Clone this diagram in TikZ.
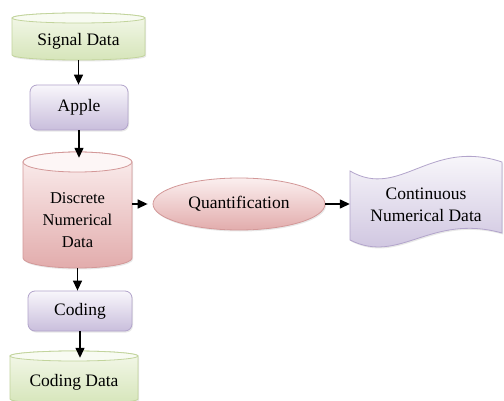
\documentclass[tikz,border=0pt]{standalone}
\usepackage{fontspec}
\setmainfont{Liberation Serif}
\newfontfamily\lblfont{Liberation Serif}
\usetikzlibrary{arrows.meta,shadows,shapes.geometric}
\definecolor{gT}{HTML}{F4F8EA}
\definecolor{gB}{HTML}{D6E5BA}
\definecolor{gL}{HTML}{C2D49C}
\definecolor{gE}{HTML}{F8FBF2}
\definecolor{pT}{HTML}{FBEFEF}
\definecolor{pB}{HTML}{E2ACAC}
\definecolor{pL}{HTML}{D39898}
\definecolor{pE}{HTML}{FDF6F6}
\definecolor{vT}{HTML}{F8F6FB}
\definecolor{vB}{HTML}{C9BEDC}
\definecolor{vL}{HTML}{B2A4CB}
\newcommand\mycyl[6]{%
  \pgfmathsetmacro\cylcx{(#1+#2)/2}%
  \pgfmathsetmacro\cylrx{(#2-#1)/2}%
  \path[#6] (#1,#3-#5) -- (#1,#4+#5)
    arc[start angle=180,end angle=360,x radius=\cylrx pt,y radius=#5pt]
    -- (#2,#3-#5)
    arc[start angle=0,end angle=180,x radius=\cylrx pt,y radius=#5pt] -- cycle;
  \path[#6 top] (\cylcx,#3-#5) ellipse[x radius=\cylrx pt,y radius=#5pt];
}
\begin{document}
\begin{tikzpicture}[x=1pt,y=1pt,
  shade/.style={drop shadow={opacity=0.18,shadow xshift=1pt,shadow yshift=-1.5pt}},
  gcyl/.style={draw=gL,line width=0.8pt,top color=gT,bottom color=gB,shade},
  gcyl top/.style={draw=gL,line width=0.8pt,fill=gE},
  pcyl/.style={draw=pL,line width=0.8pt,top color=pT,bottom color=pB,shade},
  pcyl top/.style={draw=pL,line width=0.8pt,fill=pE},
  lbl/.style={font=\lblfont\fontsize{17.5}{22}\selectfont,text=black,align=center,inner sep=0pt},
  rbox/.style={lbl,draw=vL,line width=0.8pt,rounded corners=7pt,top color=vT,bottom color=vB,shade},
  qell/.style={lbl,ellipse,draw=pL,line width=0.8pt,top color=pT,bottom color=pB,shade},
  arr/.style={line width=1.4pt,-{Triangle[length=10pt,width=9pt]}}]
\path[use as bounding box,clip] (0,0) rectangle (504,400);
\fill[white] (0,0) rectangle (504,400);
% cylinders
\mycyl{12}{145}{387}{340}{5}{gcyl}
\mycyl{23}{132}{248}{132}{10}{pcyl}
\mycyl{10}{138}{49}{-4}{5}{gcyl}
% wave shape
\path[draw=vL,line width=0.8pt,top color=white,bottom color=vB,shade]
  (350,229) .. controls (400,200) and (430,262) .. (502,238)
  -- (502,167) .. controls (430,187) and (400,135) .. (350,160) -- cycle;
% nodes
\node[lbl,minimum width=133,minimum height=37] (sig) at (78.5,358.5) {Signal Data};
\node[rbox,minimum width=98,minimum height=45] (apple) at (79,292.5) {Apple};
\node[lbl,font=\lblfont\fontsize{16.5}{22}\selectfont,minimum width=109,minimum height=96] (disc) at (77.5,180) {Discrete\\Numerical\\Data};
\node[rbox,minimum width=104,minimum height=40] (coding) at (80,89) {Coding};
\node[lbl,minimum width=128,minimum height=43] (cdata) at (74,17.5) {Coding Data};
\node[qell,minimum width=172,minimum height=52] (quant) at (239,196) {Quantification};
\node[lbl,minimum width=152,minimum height=70] (cont) at (426,195) {Continuous\\Numerical Data};
% connectors
\draw[arr] (sig.south) -- (sig.south |- apple.north);
\draw[arr] (apple.south) -- ([yshift=14pt]apple.south |- disc.north);
\draw[arr] (disc.south) -- (disc.south |- coding.north);
\draw[arr] (coding.south) -- ([yshift=3pt]coding.south |- cdata.north);
\draw[arr,shorten >=5pt] (disc.east |- quant.west) -- (quant.west);
\draw[arr] (quant.east) -- (quant.east -| cont.west);
\end{tikzpicture}
\end{document}
